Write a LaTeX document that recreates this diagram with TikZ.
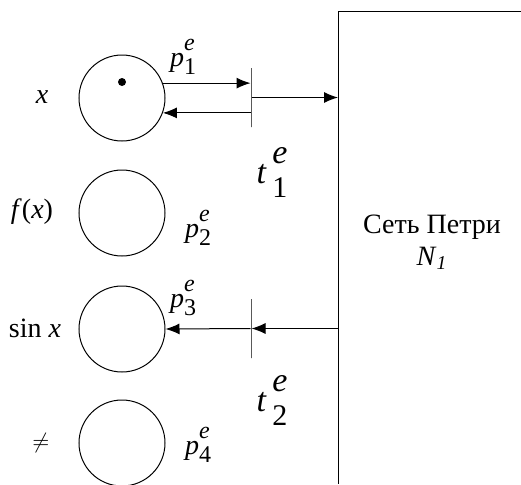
\documentclass[tikz,border=0pt]{standalone}
\usepackage{fontspec}
\setmainfont{Liberation Serif}
\usepackage{tikz}
\usetikzlibrary{arrows.meta, positioning, calc}

% place label p_i^e and transition label t_i^e
\newcommand{\pe}[1]{\textit{p}\rlap{\raisebox{.55em}{\fontsize{12}{12}\selectfont\textit{e}}}\raisebox{-.3em}{\fontsize{12}{12}\selectfont #1}}
\newcommand{\te}[1]{\textit{t}\,\rlap{\raisebox{.6em}{\textit{e}}}\raisebox{-.4em}{\fontsize{15}{15}\selectfont #1}}

\begin{document}
\begin{tikzpicture}[
                x=0.5pt, y=-0.5pt, line width=0.5pt,
                place/.style={circle, draw, minimum size=43pt, inner sep=0pt},
                trans/.style={rectangle, draw, minimum width=0pt, minimum height=29.5pt, inner sep=0pt},
                lbl/.style={inner sep=0pt, font=\fontsize{14}{16}\selectfont},
                tlbl/.style={inner sep=0pt, font=\fontsize{17}{19}\selectfont},
                arr/.style={-{Latex[length=7pt, width=5.5pt]}}
            ]
                \useasboundingbox (0,0) rectangle (521,484);

                % places
                \node[place] (p1) at (122, 98) {};
                \node[place] (p2) at (122, 213) {};
                \node[place] (p3) at (122, 329) {};
                \node[place] (p4) at (122, 443) {};
                \fill (122, 82) circle (2pt);

                % transitions
                \node[trans] (t1) at (251, 97.5) {};
                \node[trans] (t2) at (251, 328.5) {};

                % Petri net box
                \coordinate (netL) at (338, 11);
                \draw (521, 11) -- (netL) -- (338, 484);
                \node[lbl, align=center] (net) at (432, 242) {Сеть Петри\\\textit{N}\textsubscript{\textit{1}}};

                % labels
                \node[lbl] (lx) at (42, 97) {\textit{x}};
                \node[lbl] (lfx) at (32, 212) {\textit{f}(\textit{x})};
                \node[lbl] (lsin) at (35, 328) {sin \textit{x}};
                \node[lbl, font=\fontsize{11}{13}\selectfont] (lne) at (41, 443) {$\neq$};
                \node[lbl] (lp1) at (183, 57) {\pe{1}};
                \node[lbl] (lp2) at (198, 228) {\pe{2}};
                \node[lbl] (lp3) at (183, 298) {\pe{3}};
                \node[lbl] (lp4) at (198, 445) {\pe{4}};
                \node[tlbl] (lt1) at (272, 172) {\te{1}};
                \node[tlbl] (lt2) at (272, 400) {\te{2}};

                % arcs
                \draw[arr] (p1.20) -- (p1.20 -| t1.west);
                \draw[arr] (p1.-20 -| t1.west) -- (p1.-20);
                \draw[arr] (t1.east) -- (t1.east -| netL);
                \draw[arr] (t2 -| netL) -- (t2.east);
                \draw[arr] (t2.west) -- (p3.east);
            \end{tikzpicture}
\end{document}
